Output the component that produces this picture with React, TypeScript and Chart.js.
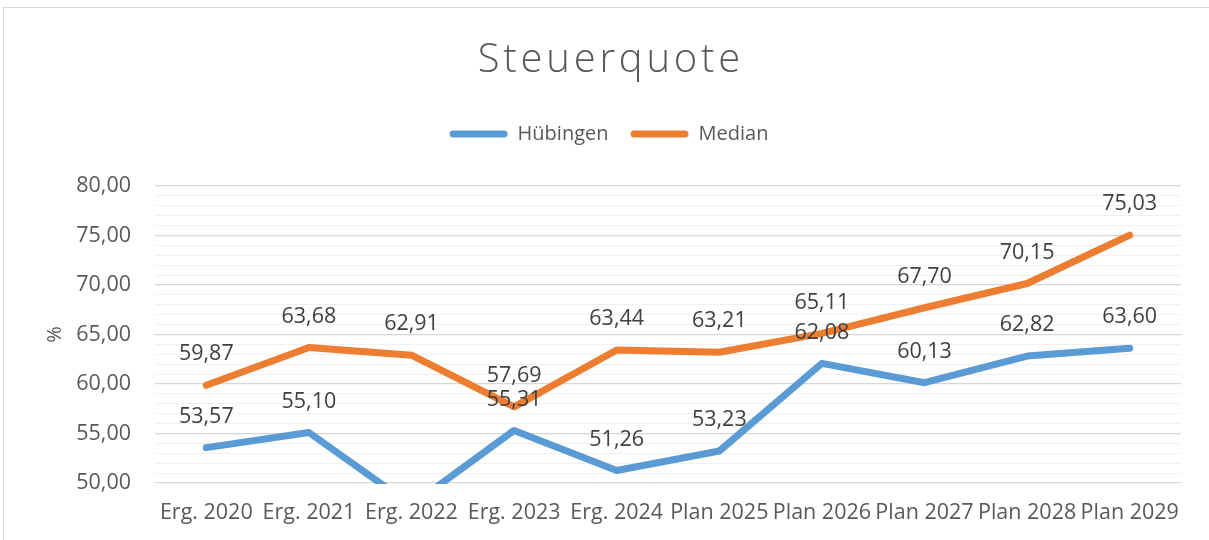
import React, { useEffect, useRef } from "react";
import { Chart, registerables } from "chart.js";

Chart.register(...registerables);

const categories = [
  "Erg. 2020", "Erg. 2021", "Erg. 2022", "Erg. 2023", "Erg. 2024",
  "Plan 2025", "Plan 2026", "Plan 2027", "Plan 2028", "Plan 2029",
];
const huebingen = [53.57, 55.10, 47.75, 55.31, 51.26, 53.23, 62.08, 60.13, 62.82, 63.60];
const median = [59.87, 63.68, 62.91, 57.69, 63.44, 63.21, 65.11, 67.70, 70.15, 75.03];
const yMin = 50;
const yMax = 80;
const yStep = 1;
const majorStep = 5;

const FONT = "'Open Sans', 'Noto Sans', sans-serif";
const BLUE = "#5B9BD5";
const ORANGE = "#ED7D31";
const fmt = (v: number) => v.toFixed(2).replace(".", ",");

const dataLabels = {
  id: "dataLabels",
  afterDatasetsDraw(chart: any) {
    const { ctx } = chart;
    const yScale = chart.scales.y;
    ctx.save();
    ctx.font = `21.5px ${FONT}`;
    ctx.fillStyle = "#404040";
    ctx.textAlign = "center";
    ctx.textBaseline = "middle";
    chart.data.datasets.forEach((ds: any, i: number) => {
      const meta = chart.getDatasetMeta(i);
      meta.data.forEach((pt: any, j: number) => {
        const v = ds.data[j];
        if (v < yScale.min || v > yScale.max) return;
        ctx.fillText(fmt(v), pt.x, pt.y - 31);
      });
    });
    ctx.restore();
  },
};

// widen the title's letter spacing like the original
const titleSpacing = {
  id: "titleSpacing",
  beforeDraw(chart: any) {
    const tb = chart.titleBlock;
    if (!tb || tb.__spaced) return;
    const orig = tb.draw.bind(tb);
    tb.draw = (...args: any[]) => {
      const ctx = chart.ctx;
      ctx.save();
      (ctx as any).letterSpacing = "3.8px";
      ctx.translate(1.9, 0);
      orig(...args);
      ctx.restore();
    };
    tb.__spaced = true;
  },
};

export default function App() {
  const ref = useRef<HTMLCanvasElement | null>(null);
  useEffect(() => {
    if (!ref.current) return;
    const chart = new Chart(ref.current, {
      type: "line",
      data: {
        labels: categories,
        datasets: [
          {
            label: "Hübingen",
            data: huebingen,
            borderColor: BLUE,
            backgroundColor: BLUE,
            borderWidth: 7,
            borderCapStyle: "round",
            borderJoinStyle: "round",
            pointRadius: 0,
            clip: { left: 10, right: 10, top: 10, bottom: 1 },
          },
          {
            label: "Median",
            data: median,
            borderColor: ORANGE,
            backgroundColor: ORANGE,
            borderWidth: 7,
            borderCapStyle: "round",
            borderJoinStyle: "round",
            pointRadius: 0,
            clip: { left: 10, right: 10, top: 10, bottom: 1 },
          },
        ],
      },
      options: {
        responsive: false,
        animation: false,
        layout: { padding: { left: 37, right: 28, top: 0, bottom: 0 } },
        plugins: {
          title: {
            display: true,
            text: "Steuerquote",
            color: "#595959",
            font: { family: FONT, size: 40, weight: "300", lineHeight: 1.2 },
            padding: { top: 37, bottom: 17 },
          },
          legend: {
            display: true,
            position: "top",
            labels: {
              color: "#595959",
              font: { family: FONT, size: 20 },
              boxWidth: 58,
              boxHeight: 7,
              padding: 22,
              useBorderRadius: true,
              borderRadius: 3.5,
              generateLabels: (c: any) =>
                c.data.datasets.map((ds: any, i: number) => ({
                  text: ds.label,
                  fillStyle: ds.borderColor,
                  strokeStyle: ds.borderColor,
                  lineWidth: 0,
                  fontColor: "#595959",
                  datasetIndex: i,
                  hidden: false,
                  borderRadius: 3.5,
                })),
            },
          },
          subtitle: {
            display: true,
            text: "",
            weight: 500,
            font: { size: 10, lineHeight: 1 },
            padding: { top: 0, bottom: 22 },
          } as any,
          tooltip: { enabled: false },
        },
        scales: {
          x: {
            offset: true,
            grid: { display: false, drawTicks: false },
            border: { display: false },
            ticks: {
              color: "#595959",
              font: { family: FONT, size: 21.5 },
              padding: 17,
              maxRotation: 0,
              autoSkip: false,
            },
            afterFit: (s: any) => {
              s.height = 57;
            },
          },
          y: {
            min: yMin,
            max: yMax,
            border: { display: false },
            grid: {
              drawTicks: false,
              color: (c: any) =>
                c.tick && c.tick.value % majorStep === 0 ? "#D6D6D6" : "#F0F0F0",
              lineWidth: (c: any) => (c.tick && c.tick.value % majorStep === 0 ? 1.3 : 1),
            },
            ticks: {
              stepSize: yStep,
              autoSkip: false,
              maxTicksLimit: 100,
              color: "#595959",
              font: { family: FONT, size: 21.5 },
              padding: 24,
              callback: (v: any) => (Number(v) % majorStep === 0 ? fmt(Number(v)) : ""),
            },
            title: {
              display: true,
              text: "%",
              color: "#595959",
              font: { family: FONT, size: 20 },
              padding: { top: 6, bottom: 0 },
            },
            afterFit: (s: any) => {
              s.width = 118;
            },
          },
        },
      },
      plugins: [titleSpacing, dataLabels],
    } as any);
    return () => chart.destroy();
  }, []);

  return (
    <div style={{ position: "fixed", left: 0, top: 0, width: 1209, height: 540, background: "#fff", overflow: "hidden" }}>
      <div
        style={{
          position: "absolute",
          left: 3,
          top: 7,
          width: 1300,
          height: 700,
          border: "1px solid #D9D9D9",
          boxSizing: "border-box",
        }}
      />
      <canvas
        ref={ref}
        width={1209}
        height={540}
        style={{ position: "absolute", left: 0, top: 0, width: 1209, height: 540 }}
      />
    </div>
  );
}
